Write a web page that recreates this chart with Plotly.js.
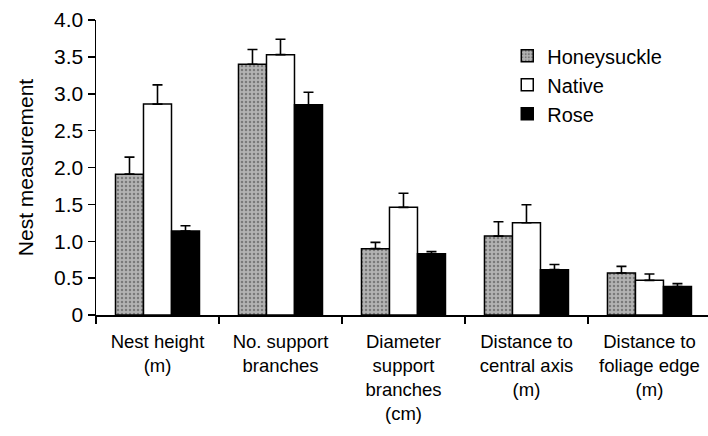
<!DOCTYPE html>
<html>
<head>
<meta charset="utf-8">
<script src="https://cdn.plot.ly/plotly-3.0.1.min.js"></script>
<style>html,body{margin:0;padding:0;background:#fff;}#chart{width:708px;height:436px;}</style>
</head>
<body>
<div id="chart"></div>
<script>
const categories = ["Nest height<br>(m)", "No. support<br>branches", "Diameter<br>support<br>branches<br>(cm)", "Distance to<br>central axis<br>(m)", "Distance to<br>foliage edge<br>(m)"];
const seriesNames = ["Honeysuckle", "Native", "Rose"];
const honeysuckle = [1.91, 3.40, 0.90, 1.07, 0.57];
const honeysuckleErr = [0.23, 0.20, 0.085, 0.195, 0.09];
const native = [2.86, 3.53, 1.46, 1.25, 0.47];
const nativeErr = [0.26, 0.21, 0.19, 0.245, 0.085];
const rose = [1.14, 2.85, 0.83, 0.615, 0.385];
const roseErr = [0.07, 0.17, 0.03, 0.07, 0.04];
const yTickVals = [0, 0.5, 1, 1.5, 2, 2.5, 3, 3.5, 4];
const yTickText = ["0", "0.5", "1.0", "1.5", "2.0", "2.5", "3.0", "3.5", "4.0"];

const FONT = "Liberation Sans, Arial, Helvetica, sans-serif";
function errBar(arr) {
  return {type: "data", array: arr, arrayminus: arr.map(() => 0), symmetric: false,
          color: "#000", thickness: 1.6, width: 5, visible: true};
}
const line = {color: "#000", width: 1.5};
const traces = [
  {type: "bar", name: seriesNames[0], x: categories, y: honeysuckle, error_y: errBar(honeysuckleErr),
   marker: {color: "#a9a9a9", line: line, pattern: {shape: ".", bgcolor: "#b3b3b3", fgcolor: "#7a7a7a", size: 4, solidity: 0.3}}},
  {type: "bar", name: seriesNames[1], x: categories, y: native, error_y: errBar(nativeErr),
   marker: {color: "#ffffff", line: line}},
  {type: "bar", name: seriesNames[2], x: categories, y: rose, error_y: errBar(roseErr),
   marker: {color: "#000000", line: line}}
];
const layout = {
  width: 708, height: 436,
  margin: {l: 96, r: 0, t: 20, b: 121, pad: 0},
  paper_bgcolor: "#fff", plot_bgcolor: "#fff",
  font: {family: FONT, size: 19, color: "#000"},
  barmode: "group", bargap: 0.317, bargroupgap: 0,
  showlegend: true,
  legend: {x: 0.672, y: 0.945, xanchor: "left", yanchor: "top", bgcolor: "rgba(0,0,0,0)",
           font: {family: FONT, size: 20, color: "#000"}, tracegroupgap: 0, itemwidth: 30},
  xaxis: {type: "category", range: [-0.5, 4.476], showline: true, linecolor: "#000", linewidth: 1.5,
          ticks: "outside", tickson: "boundaries", ticklen: 7, tickwidth: 1.5, tickcolor: "#000",
          showgrid: false, zeroline: false, tickfont: {family: FONT, size: 18.5, color: "#000"}, tickangle: 0,
          ticklabelstandoff: 9, fixedrange: true},
  yaxis: {range: [0, 4], tickvals: yTickVals, ticktext: yTickText, showline: true, linecolor: "#000", linewidth: 1.5,
          ticks: "outside", ticklen: 7, tickwidth: 1.5, tickcolor: "#000", showgrid: false, zeroline: false,
          tickfont: {family: FONT, size: 21, color: "#000"},
          title: {text: "Nest measurement", font: {family: FONT, size: 21, color: "#000"}, standoff: 14}, fixedrange: true}
};
Plotly.newPlot("chart", traces, layout, {staticPlot: true, displayModeBar: false});
</script>
</body>
</html>
